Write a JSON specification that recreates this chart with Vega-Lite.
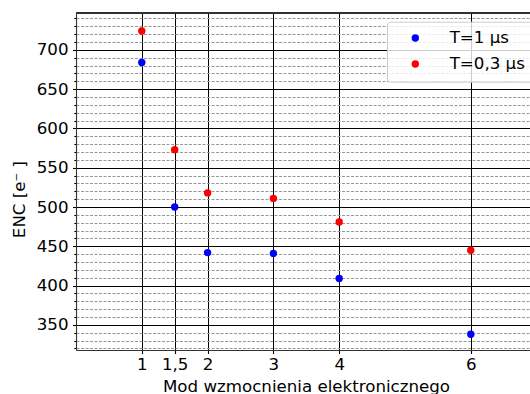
{
  "$schema": "https://vega.github.io/schema/vega-lite/v6.json",
  "autosize": {"type": "none"},
  "padding": {"left": 76, "top": 13, "right": 0, "bottom": 44},
  "width": 454,
  "height": 337,
  "background": "white",
  "config": {
    "view": {"stroke": null},
    "font": "DejaVu Sans",
    "axis": {
      "labelFont": "DejaVu Sans",
      "labelFontSize": 16.67,
      "labelColor": "black",
      "titleFont": "DejaVu Sans",
      "titleFontSize": 16.67,
      "titleFontWeight": "normal",
      "titleColor": "black",
      "domainColor": "#333",
      "domainWidth": 1.1,
      "tickColor": "black",
      "tickWidth": 1.1,
      "labelOverlap": false,
      "labelFlush": false
    }
  },
  "data": {
    "values": [
      {"mod": 1, "enc": 684, "seria": "T=1 μs"},
      {"mod": 1.5, "enc": 500, "seria": "T=1 μs"},
      {"mod": 2, "enc": 442, "seria": "T=1 μs"},
      {"mod": 3, "enc": 441, "seria": "T=1 μs"},
      {"mod": 4, "enc": 409, "seria": "T=1 μs"},
      {"mod": 6, "enc": 338, "seria": "T=1 μs"},
      {"mod": 1, "enc": 724, "seria": "T=0,3 μs"},
      {"mod": 1.5, "enc": 573, "seria": "T=0,3 μs"},
      {"mod": 2, "enc": 518, "seria": "T=0,3 μs"},
      {"mod": 3, "enc": 511, "seria": "T=0,3 μs"},
      {"mod": 4, "enc": 481, "seria": "T=0,3 μs"},
      {"mod": 6, "enc": 445, "seria": "T=0,3 μs"}
    ]
  },
  "layer": [
    {
      "mark": {"type": "rule", "color": "#333", "strokeWidth": 1.1},
      "encoding": {"y": {"datum": 747, "type": "quantitative"}}
    },
    {
      "mark": {"type": "circle", "size": 55, "opacity": 1},
      "encoding": {
        "x": {
          "field": "mod",
          "type": "quantitative",
          "scale": {"domain": [0, 6.9], "nice": false, "zero": false},
          "axis": {
            "title": "Mod wzmocnienia elektronicznego",
            "values": [1, 1.5, 2, 3, 4, 6],
            "tickCount": 100,
            "labelExpr": "replace(toString(datum.value), '.', ',')",
            "grid": true,
            "gridColor": "black",
            "gridWidth": 1,
            "tickSize": 3.5,
            "labelPadding": 2.5,
            "titleX": 230,
            "titleY": 41,
            "titleBaseline": "alphabetic",
            "titleAnchor": "start",
            "titleAlign": "center"
          }
        },
        "y": {
          "field": "enc",
          "type": "quantitative",
          "scale": {"domain": [318, 747], "nice": false, "zero": false},
          "axis": {
            "title": "ENC [e⁻ ]",
            "values": [320, 330, 340, 350, 360, 370, 380, 390, 400, 410, 420, 430, 440, 450, 460, 470, 480, 490, 500, 510, 520, 530, 540, 550, 560, 570, 580, 590, 600, 610, 620, 630, 640, 650, 660, 670, 680, 690, 700, 710, 720, 730, 740],
            "tickCount": 100,
            "labelExpr": "datum.value % 50 === 0 ? toString(datum.value) : ''",
            "grid": true,
            "gridColor": {"condition": {"test": "datum.value % 50 === 0", "value": "black"}, "value": "#999"},
            "gridDash": {"condition": {"test": "datum.value % 50 === 0", "value": []}, "value": [3, 1.5]},
            "gridWidth": 1,
            "tickSize": {"condition": {"test": "datum.value % 50 === 0", "value": 3.5}, "value": 2.2},
            "labelPadding": 4.5,
            "titlePadding": 8,
            "titleY": 186
          }
        },
        "color": {
          "field": "seria",
          "type": "nominal",
          "scale": {"domain": ["T=1 μs", "T=0,3 μs"], "range": ["#0000ff", "#ff0000"]},
          "legend": {
            "title": null,
            "orient": "none",
            "legendX": 311,
            "legendY": 8.7,
            "fillColor": "rgba(255,255,255,0.8)",
            "strokeColor": "#cccccc",
            "cornerRadius": 3,
            "padding": 8,
            "symbolType": "circle",
            "symbolSize": 55,
            "symbolStrokeWidth": 0,
            "symbolOffset": 12,
            "labelOffset": 26,
            "labelFont": "DejaVu Sans",
            "labelFontSize": 16.67,
            "labelColor": "black",
            "rowPadding": 8
          }
        }
      }
    }
  ]
}
